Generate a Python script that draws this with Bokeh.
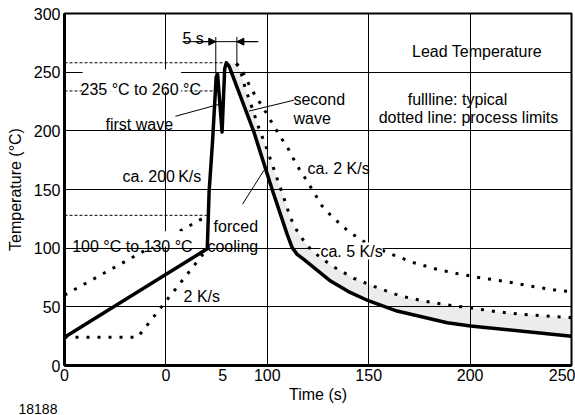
from bokeh.plotting import figure
from bokeh.models import Range1d, FixedTicker, Label, Arrow, NormalHead, BoxAnnotation, Title
from bokeh.embed import file_html
from bokeh.resources import INLINE

# ---- data (x in display-time units of the broken axis, y in degC) ----
typ_time = [0, 70.4, 71.3, 73.0, 74.8, 75.5, 77.7, 79.0, 79.8, 81.2, 93.2, 102.4,
            106.5, 109.8, 112.3, 114.7, 118.0, 131.2, 140.0, 150.1, 164.0, 188.7, 200.2, 250.0]
typ_temp = [24, 99.5, 148, 191, 246, 248, 199, 253, 258, 255, 200, 150,
            128.8, 111.8, 100.3, 94.7, 90.5, 72, 63, 55, 46.4, 36.5, 33.6, 25]

heat_upper_time = [0, 70.9]
heat_upper_temp = [60, 128]
heat_lower_time = [0, 36, 70.4]
heat_lower_temp = [24, 24, 99.5]

cool_fast_time = [84.8, 87.0, 89.3, 91.7, 95.5, 99.6, 103.7, 107.6, 111.4, 115.0, 118.3, 122.1,
                  132.0, 142.7, 154.2, 165.7, 177.2, 189.5, 201.8, 213.4, 225.7, 238.0, 250.0]
cool_fast_temp = [257.4, 250, 235.3, 223.9, 204.0, 185.5, 165.0, 145.8, 125.9, 113.7, 105.5, 97.5,
                  84.8, 74.3, 66.3, 59.2, 54.9, 51.5, 48.7, 45.8, 43.6, 42.2, 40.7]

cool_slow_time = [84.8, 87.5, 91.4, 94.2, 97.5, 100.7, 103.6, 106.8, 110.1, 112.8, 115.9, 119.3,
                  122.1, 127.0, 131.2, 135.8, 140.2, 150.0, 160.7, 172.2, 183.8, 195.3, 206.8,
                  218.3, 229.8, 242.9, 250.0]
cool_slow_temp = [257.4, 252, 238.0, 229.6, 221.0, 211.7, 203.0, 194.0, 185.5, 176.5, 167.0, 158.0,
                  150.0, 136.0, 128.2, 120.8, 114.0, 103.0, 95.2, 87.6, 81.9, 77.7, 74.3,
                  71.4, 67.7, 64.1, 62.9]

x_tick_pos = [0, 50, 78, 100, 150, 200, 250]
x_tick_labels = ["0", "0", "5", "100", "150", "200", "250"]
x_grid_pos = [50, 100, 150, 200]
y_ticks = [0, 50, 100, 150, 200, 250, 300]

FONT = "Liberation Sans"

p = figure(width=575, height=415, x_range=Range1d(0, 250), y_range=Range1d(0, 300),
           output_backend="svg", toolbar_location=None,
           min_border_left=64, min_border_right=4, min_border_top=13, min_border_bottom=50)

p.outline_line_color = "black"
p.outline_line_width = 2
p.background_fill_color = "white"

# axes
p.xaxis.ticker = FixedTicker(ticks=x_tick_pos)
p.xaxis.major_label_overrides = {pos: lab for pos, lab in zip(x_tick_pos, x_tick_labels)}
p.yaxis.ticker = FixedTicker(ticks=y_ticks)
p.xgrid.ticker = FixedTicker(ticks=x_grid_pos)
p.ygrid.ticker = FixedTicker(ticks=y_ticks)
for g in (p.xgrid, p.ygrid):
    g.grid_line_color = "black"
    g.grid_line_width = 1
for ax in (p.xaxis, p.yaxis):
    ax.axis_line_width = 3
    ax.axis_line_color = "black"
    ax.major_tick_in = 0
    ax.major_tick_out = 0
    ax.minor_tick_in = 0
    ax.minor_tick_out = 0
    ax.major_label_text_font = FONT
    ax.major_label_text_font_size = "16px"
    ax.major_label_text_color = "black"
    ax.axis_label_text_font = FONT
    ax.axis_label_text_font_size = "16px"
    ax.axis_label_text_font_style = "normal"
    ax.axis_label_text_color = "black"
p.xaxis.axis_label = "Time (s)"
p.yaxis.axis_label = "Temperature (°C)"
p.xaxis.major_label_standoff = 3
p.xaxis.axis_label_standoff = 2
p.yaxis.major_label_standoff = 4
p.yaxis.axis_label_standoff = 7

# figure number below the chart, at the left
p.add_layout(Title(text="18188", align="left", offset=-46, standoff=-8,
                   text_font=FONT, text_font_size="14px", text_font_style="normal",
                   text_color="black"), "below")

# shaded band between typical cooling and fast-cooling limit
peak_idx = typ_temp.index(max(typ_temp))
shade_x = typ_time[peak_idx:] + cool_fast_time[::-1]
shade_y = typ_temp[peak_idx:] + cool_fast_temp[::-1]
p.patch(shade_x, shade_y, fill_color="black", fill_alpha=0.075, line_color=None)

# dotted process limits
dot = dict(line_color="black", line_width=3, line_dash="3 8")
p.line(heat_upper_time, heat_upper_temp, **dot)
p.line(heat_lower_time, heat_lower_temp, **dot)
p.line(cool_fast_time, cool_fast_temp, **dot)
p.line(cool_slow_time, cool_slow_temp, **dot)

# typical full line
p.line(typ_time, typ_temp, line_color="black", line_width=3.5, line_join="round")

# helper lines
def seg(x0, y0, x1, y1, dash=None):
    kw = dict(end=None, x_start=x0, y_start=y0, x_end=x1, y_end=y1,
              line_color="black", line_width=1)
    if dash:
        kw["line_dash"] = dash
    p.add_layout(Arrow(**kw))

seg(0, 258, 78.5, 258, "3 2")
seg(0, 234, 73.5, 234, "3 2")
seg(0, 128, 70.6, 128, "3 2")

# white boxes behind some labels
p.add_layout(BoxAnnotation(left=8.9, right=57.5, bottom=233.3, top=252.5,
                           fill_color="white", fill_alpha=1, line_color=None))
p.add_layout(BoxAnnotation(left=3.5, right=66.5, bottom=101.2, top=114.5,
                           fill_color="white", fill_alpha=1, line_color=None))

# 5 s marker
seg(58.2, 276, 95.7, 276)
seg(74.6, 280, 74.6, 248)
seg(85.0, 280, 85.0, 257)
p.add_layout(Arrow(end=NormalHead(size=7, fill_color="black", line_color="black"),
                   x_start=64, y_start=276, x_end=74.6, y_end=276, line_width=1))
p.add_layout(Arrow(end=NormalHead(size=7, fill_color="black", line_color="black"),
                   x_start=95, y_start=276, x_end=85.0, y_end=276, line_width=1))

# leader lines
seg(54.7, 212.4, 76.1, 222.5)
seg(90.9, 216.8, 113.1, 226.1)
seg(87.8, 137.5, 98.4, 166.5)

def lab(x, y, text, align="left", size="16px", bg=None):
    kw = dict(x=x, y=y, text=text, text_font=FONT, text_font_size=size,
              text_align=align, text_baseline="alphabetic", text_color="black")
    if bg:
        kw["background_fill_color"] = bg
        kw["background_fill_alpha"] = 1
    p.add_layout(Label(**kw))

lab(58.2, 278.5, "5 s")
lab(7.9, 235.0, "235 °C to 260 °C")
lab(20.2, 205.5, "first wave")
lab(112.9, 227.0, "second")
lab(112.9, 210.4, "wave")
lab(28.6, 161.4, "ca. 200\u2009K/s")
lab(119.8, 168.2, "ca. 2 K/s")
lab(73.5, 118.8, "forced")
lab(70.5, 101.8, "cooling")
lab(3.8, 101.8, "100 °C to 130 °C")
lab(58.7, 59.2, "2 K/s")
lab(126.2, 97.5, "ca. 5 K/s", bg="white")
lab(203.4, 267.9, "Lead Temperature", align="center")
lab(193.8, 227.0, "fullline: typical", align="center")
lab(199.2, 211.0, "dotted line: process limits", align="center")

open("out.html", "w").write(file_html(p, INLINE))
